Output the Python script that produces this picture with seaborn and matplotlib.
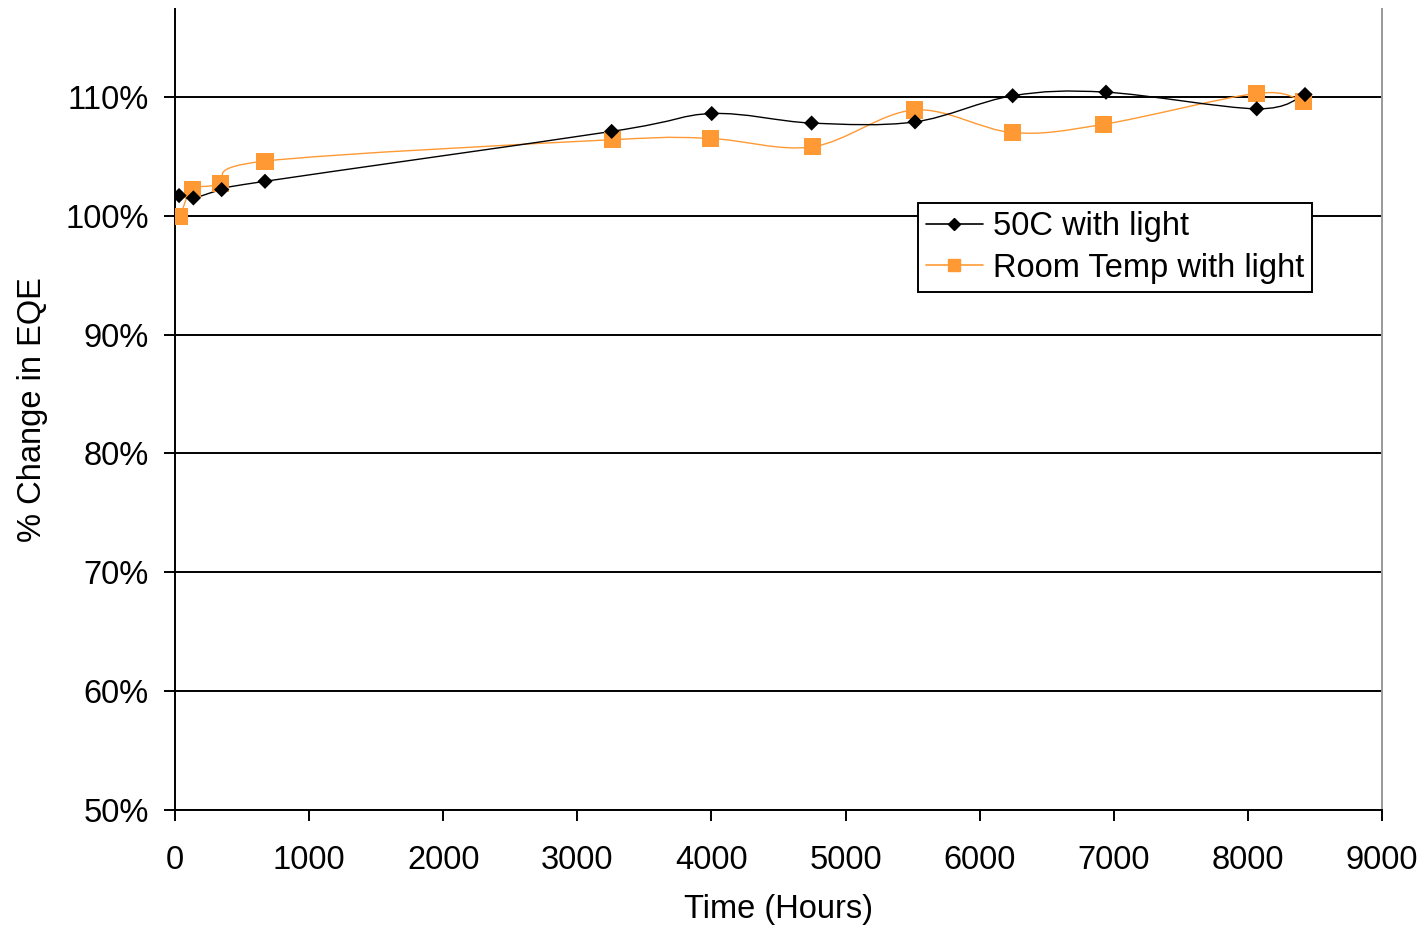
import numpy as np
import pandas as pd
import matplotlib
matplotlib.use("Agg")
import matplotlib.pyplot as plt
import seaborn as sns
from matplotlib.path import Path
from matplotlib.patches import PathPatch
from matplotlib.lines import Line2D
from matplotlib.ticker import FuncFormatter

# data
hours_50c = [30, 137, 348, 671, 3256, 4002, 4747, 5518, 6246, 6942, 8066, 8426]
eqe_50c = [101.7, 101.5, 102.2, 102.9, 107.1, 108.6, 107.8, 107.9, 110.1, 110.4, 109.0, 110.2]

hours_room = [37, 129, 336, 671, 3261, 3994, 4752, 5513, 6246, 6927, 8066, 8413]
eqe_room = [99.9, 102.2, 102.7, 104.6, 106.4, 106.5, 105.8, 108.9, 107.0, 107.7, 110.3, 109.6]

series_names = ["50C with light", "Room Temp with light"]
x_ticks = list(range(0, 10000, 1000))
y_ticks = list(range(50, 120, 10))

BLACK = "#000000"
ORANGE = "#FF9933"

sns.set_theme(style="white")
plt.rcParams["font.family"] = ["Liberation Sans", "DejaVu Sans"]
plt.rcParams["text.color"] = "black"
plt.rcParams["axes.labelcolor"] = "black"
plt.rcParams["xtick.color"] = "black"
plt.rcParams["ytick.color"] = "black"


def smooth_path(xs, ys):
    """Excel-like smoothed line as cubic bezier segments through the points"""
    pts = np.column_stack([xs, ys]).astype(float)
    n = len(pts)
    verts = [pts[0]]
    codes = [Path.MOVETO]
    for i in range(n - 1):
        p0 = pts[i - 1] if i > 0 else pts[i]
        p1 = pts[i]
        p2 = pts[i + 1]
        p3 = pts[i + 2] if i + 2 < n else pts[i + 1]
        c1 = p1 + (p2 - p0) / 6.0
        c2 = p2 - (p3 - p1) / 6.0
        verts += [c1, c2, p2]
        codes += [Path.CURVE4] * 3
    return Path(verts, codes)


df = pd.concat([
    pd.DataFrame({"hours": hours_50c, "eqe": eqe_50c, "series": series_names[0]}),
    pd.DataFrame({"hours": hours_room, "eqe": eqe_room, "series": series_names[1]}),
])

fig = plt.figure(figsize=(14.24, 9.26), dpi=100)
ax = fig.add_axes([0.1229, 0.1253, 0.8476, 0.865])

# gridlines
for yv in y_ticks:
    ax.axhline(yv, color="black", lw=1.4, zorder=1)

# smoothed connecting lines
ax.add_patch(PathPatch(smooth_path(hours_50c, eqe_50c), fc="none", ec=BLACK,
                       lw=1.0, transform=ax.transData, zorder=3))
ax.add_patch(PathPatch(smooth_path(hours_room, eqe_room), fc="none", ec=ORANGE,
                       lw=1.0, transform=ax.transData, zorder=2))

sns.scatterplot(data=df[df["series"] == series_names[1]], x="hours", y="eqe",
                color=ORANGE, marker="s", s=150, edgecolor="none", ax=ax,
                zorder=4, legend=False)
sns.scatterplot(data=df[df["series"] == series_names[0]], x="hours", y="eqe",
                color=BLACK, marker="D", s=60, edgecolor="none", ax=ax,
                zorder=5, legend=False)

ax.set_xlim(0, 9000)
ax.set_ylim(50, 117.4)
ax.set_xticks(x_ticks)
ax.set_yticks(y_ticks)
ax.yaxis.set_major_formatter(FuncFormatter(lambda v, p: f"{int(v)}%"))
ax.tick_params(axis="both", which="major", labelsize=23.5, length=8, width=1.4,
               direction="out", color="black", left=True, bottom=True)
ax.tick_params(axis="y", pad=11)
ax.tick_params(axis="x", pad=17)

ax.set_xlabel("Time (Hours)", fontsize=23.5, labelpad=13)
ax.set_ylabel("% Change in EQE", fontsize=23.5, labelpad=12)
ax.grid(False)

for side in ["left", "bottom"]:
    ax.spines[side].set_color("black")
    ax.spines[side].set_linewidth(1.4)
ax.spines["top"].set_visible(False)
ax.spines["right"].set_color("#999999")
ax.spines["right"].set_linewidth(1.4)

handles = [
    Line2D([], [], color=BLACK, lw=1.2, marker="D", markersize=6),
    Line2D([], [], color=ORANGE, lw=1.2, marker="s", markersize=9),
]
leg = ax.legend(handles, series_names, loc="upper right",
                bbox_to_anchor=(0.942, 0.758), fontsize=23.5, frameon=True,
                fancybox=False, edgecolor="black", borderaxespad=0,
                handlelength=1.75, handletextpad=0.3, borderpad=0.25,
                labelspacing=0.33)
leg.get_frame().set_linewidth(1.4)
leg.get_frame().set_alpha(1)

fig.savefig("out.png", dpi=100)
